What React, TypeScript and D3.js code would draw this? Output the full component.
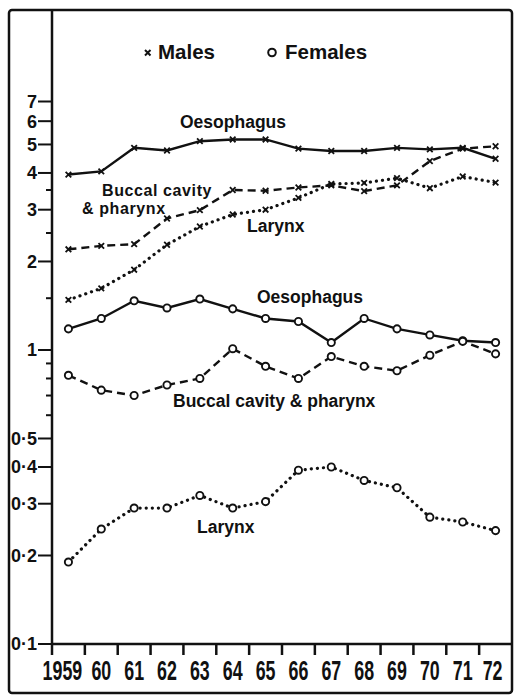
import { useEffect, useRef } from "react";
import * as d3 from "d3";

// years along the bottom, one band per year
const years = [1959, 1960, 1961, 1962, 1963, 1964, 1965, 1966, 1967, 1968, 1969, 1970, 1971, 1972];
const yearLabels = ["1959", "60", "61", "62", "63", "64", "65", "66", "67", "68", "69", "70", "71", "72"];

// males (x markers)
const maleOesophagus = [3.95, 4.05, 4.87, 4.77, 5.13, 5.2, 5.2, 4.84, 4.75, 4.75, 4.87, 4.81, 4.87, 4.47];
const maleBuccal = [2.2, 2.26, 2.29, 2.8, 2.99, 3.5, 3.48, 3.57, 3.63, 3.47, 3.63, 4.39, 4.84, 4.93];
const maleLarynx = [1.48, 1.62, 1.875, 2.28, 2.63, 2.89, 3.0, 3.29, 3.67, 3.7, 3.84, 3.55, 3.89, 3.71];

// females (o markers)
const femaleOesophagus = [1.18, 1.28, 1.47, 1.39, 1.49, 1.38, 1.28, 1.25, 1.06, 1.28, 1.18, 1.125, 1.075, 1.06];
const femaleBuccal = [0.82, 0.73, 0.7, 0.76, 0.8, 1.01, 0.88, 0.8, 0.95, 0.88, 0.85, 0.96, 1.07, 0.97];
const femaleLarynx = [0.19, 0.246, 0.29, 0.29, 0.32, 0.29, 0.305, 0.39, 0.4, 0.36, 0.34, 0.27, 0.26, 0.243];

const majorTicks = [0.1, 0.2, 0.3, 0.4, 0.5, 1, 2, 3, 4, 5, 6, 7];
const minorTicks = [0.6, 0.7, 0.8, 0.9, 1.5, 2.5, 3.5];

const FONT = "'Liberation Sans', Arial, sans-serif";

export default function App() {
  const svgRef = useRef<SVGSVGElement | null>(null);

  useEffect(() => {
    const width = 515;
    const height = 696;
    const svg = d3.select(svgRef.current).attr("width", width).attr("height", height);
    svg.selectAll("*").remove();

    svg.append("rect").attr("width", width).attr("height", height).attr("fill", "white");

    const x = d3.scaleBand().domain(years.map(String)).range([52, 512]);
    const y = d3.scaleLog().domain([0.1, 7]).range([644, 101.5]);
    const cx = (i: number) => x(String(years[i]))! + x.bandwidth() / 2;

    // frame
    svg
      .append("rect")
      .attr("x", 9)
      .attr("y", 10)
      .attr("width", 503)
      .attr("height", 683)
      .attr("rx", 3)
      .attr("fill", "none")
      .attr("stroke", "#111")
      .attr("stroke-width", 2.5);

    // axes
    const axisY = y(0.1);
    svg
      .append("line")
      .attr("x1", 52)
      .attr("x2", 52)
      .attr("y1", 10)
      .attr("y2", axisY + 1)
      .attr("stroke", "#111")
      .attr("stroke-width", 2.5);
    svg
      .append("line")
      .attr("x1", 51)
      .attr("x2", 512)
      .attr("y1", axisY)
      .attr("y2", axisY)
      .attr("stroke", "#111")
      .attr("stroke-width", 2.5);

    // y ticks
    svg
      .selectAll(".major")
      .data(majorTicks)
      .join("line")
      .attr("x1", 38)
      .attr("x2", 52)
      .attr("y1", (d) => y(d))
      .attr("y2", (d) => y(d))
      .attr("stroke", "#111")
      .attr("stroke-width", 2);
    svg
      .selectAll(".minor")
      .data(minorTicks)
      .join("line")
      .attr("x1", 46)
      .attr("x2", 52)
      .attr("y1", (d) => y(d))
      .attr("y2", (d) => y(d))
      .attr("stroke", "#111")
      .attr("stroke-width", 2);
    svg
      .selectAll(".ylab")
      .data(majorTicks)
      .join("text")
      .attr("x", 37)
      .attr("y", (d) => y(d))
      .attr("dy", "0.36em")
      .attr("text-anchor", "end")
      .attr("font-family", FONT)
      .attr("font-weight", "bold")
      .attr("font-size", 18)
      .attr("fill", "#111")
      .text((d) => String(d).replace(".", "·"));

    // x ticks at band edges, labels in the bands (condensed)
    svg
      .selectAll(".xtick")
      .data(years)
      .join("line")
      .attr("x1", (d) => x(String(d))!)
      .attr("x2", (d) => x(String(d))!)
      .attr("y1", axisY)
      .attr("y2", axisY + 11)
      .attr("stroke", "#111")
      .attr("stroke-width", 2.5);
    svg
      .selectAll(".xlab")
      .data(yearLabels)
      .join("text")
      .attr(
        "transform",
        (d, i) => `translate(${cx(i) - (i === 0 ? 6 : 0) - (i === 13 ? 3 : 0)},${axisY + 36}) scale(0.66,1)`
      )
      .attr("text-anchor", "middle")
      .attr("font-family", FONT)
      .attr("font-weight", "bold")
      .attr("font-size", 27)
      .attr("fill", "#111")
      .text((d) => d);

    const series = [
      { values: maleOesophagus, dash: null, male: true },
      { values: maleBuccal, dash: "8,5", male: true },
      { values: maleLarynx, dash: "0.1,6", male: true },
      { values: femaleOesophagus, dash: null, male: false },
      { values: femaleBuccal, dash: "8,5", male: false },
      { values: femaleLarynx, dash: "0.1,6", male: false },
    ];

    const line = d3
      .line<number>()
      .x((d, i) => cx(i))
      .y((d) => y(d));

    series.forEach((s) => {
      const dotted = s.dash === "0.1,6";
      svg
        .append("path")
        .attr("d", line(s.values)!)
        .attr("fill", "none")
        .attr("stroke", "#111")
        .attr("stroke-width", dotted ? 3.2 : 2.4)
        .attr("stroke-linecap", dotted ? "round" : "butt")
        .attr("stroke-dasharray", s.dash ?? "none");
    });

    series.forEach((s) => {
      if (s.male) {
        const g = svg.append("g");
        s.values.forEach((v, i) => {
          const px = cx(i);
          const py = y(v);
          g.append("path")
            .attr("d", `M${px - 2.8},${py - 2.8}L${px + 2.8},${py + 2.8}M${px - 2.8},${py + 2.8}L${px + 2.8},${py - 2.8}`)
            .attr("stroke", "#111")
            .attr("stroke-width", 1.8);
        });
      } else {
        svg
          .append("g")
          .selectAll("circle")
          .data(s.values)
          .join("circle")
          .attr("cx", (d, i) => cx(i))
          .attr("cy", (d) => y(d))
          .attr("r", 3.6)
          .attr("fill", "white")
          .attr("stroke", "#111")
          .attr("stroke-width", 1.9);
      }
    });

    // legend
    svg
      .append("path")
      .attr("d", "M145,50L150.5,55.5M145,55.5L150.5,50")
      .attr("stroke", "#111")
      .attr("stroke-width", 2);
    svg
      .append("circle")
      .attr("cx", 272)
      .attr("cy", 52.5)
      .attr("r", 3.8)
      .attr("fill", "white")
      .attr("stroke", "#111")
      .attr("stroke-width", 2);
    const legendText = [
      { text: "Males", x: 158 },
      { text: "Females", x: 285 },
    ];
    svg
      .selectAll(".legend")
      .data(legendText)
      .join("text")
      .attr("x", (d) => d.x)
      .attr("y", 58.5)
      .attr("font-family", FONT)
      .attr("font-weight", "bold")
      .attr("font-size", 20.5)
      .attr("fill", "#111")
      .text((d) => d.text);

    // series labels
    const labels = [
      { text: "Oesophagus", x: 180, y: 128, size: 17.5, ls: 0 },
      { text: "Buccal cavity", x: 102, y: 196, size: 16, ls: 0.6 },
      { text: "& pharynx", x: 82, y: 214, size: 16, ls: 0.6 },
      { text: "Larynx", x: 247, y: 232, size: 17.5, ls: 0 },
      { text: "Oesophagus", x: 257, y: 303, size: 17.5, ls: 0 },
      { text: "Buccal cavity & pharynx", x: 173, y: 407, size: 17.5, ls: 0 },
      { text: "Larynx", x: 197, y: 533, size: 17.5, ls: 0 },
    ];
    svg
      .selectAll(".label")
      .data(labels)
      .join("text")
      .attr("x", (d) => d.x)
      .attr("y", (d) => d.y)
      .attr("font-family", FONT)
      .attr("font-weight", "bold")
      .attr("font-size", (d) => d.size)
      .attr("letter-spacing", (d) => d.ls)
      .attr("fill", "#111")
      .text((d) => d.text);
  }, []);

  return (
    <div style={{ position: "absolute", left: 0, top: 0 }}>
      <svg ref={svgRef} style={{ display: "block" }}></svg>
    </div>
  );
}
